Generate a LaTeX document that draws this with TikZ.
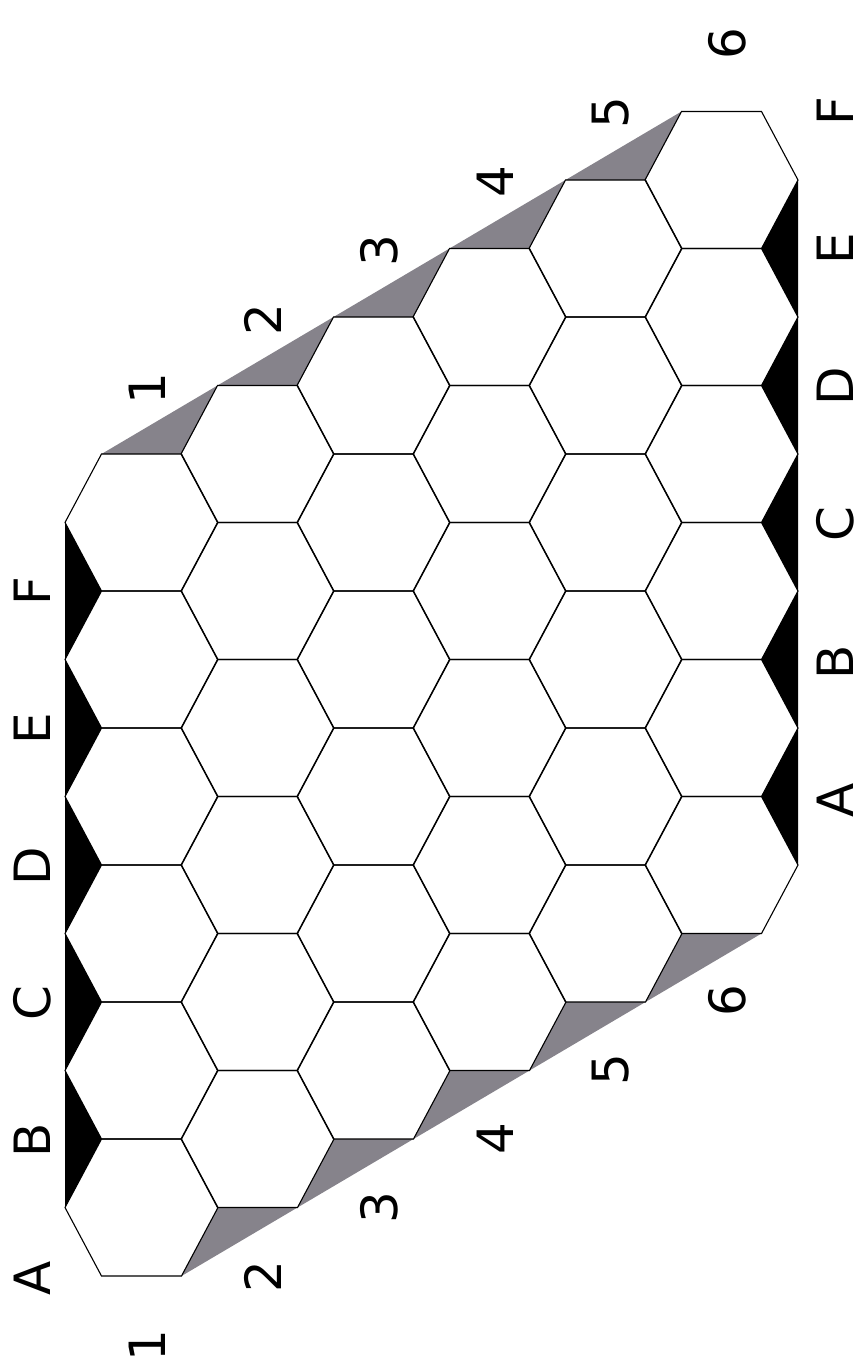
\documentclass[tikz,border=0pt]{standalone}
\usepackage{fontspec}
\newfontfamily\labfont{DejaVu Sans}
\definecolor{edgegrey}{RGB}{134,131,139}
\tikzset{
  hexcell/.style={draw=black, line width=0.55pt, line join=miter},
  blackedge/.style={fill=black},
  greyedge/.style={fill=edgegrey},
  lab/.style={font=\labfont\fontsize{25}{25}\selectfont, rotate=90, inner sep=0pt, anchor=center}
}
\begin{document}
\begin{tikzpicture}[x=0.5pt,y=-0.5pt]
\useasboundingbox (0,0) rectangle (862,1366);
% grey edge triangles
\foreach \k in {0,...,4}{
  \pgfmathsetmacro\cx{141.5+116*\k}
  \pgfmathsetmacro\cy{1207.5-68.5*\k}
  \pgfmathsetmacro\cyt{\cy-685}
  \fill[greyedge] (\cx+40,\cy+68.5) -- (\cx+76.5,\cy) -- (\cx+156,\cy) -- cycle;
  \fill[greyedge] (\cx-40,\cyt-68.5) -- (\cx+40,\cyt-68.5) -- (\cx+76,\cyt-137) -- cycle;
}
% black edge triangles
\foreach \j in {0,...,4}{
  \pgfmathsetmacro\ya{1207.5-137*\j}
  \pgfmathsetmacro\yb{865-137*\j}
  \fill[blackedge] (65,\ya) -- (101.5,\ya-68.5) -- (65,\ya-137) -- cycle;
  \fill[blackedge] (798,\yb) -- (761.5,\yb-68.5) -- (798,\yb-137) -- cycle;
}
% hex cells
\foreach \k in {0,...,5}{
  \foreach \j in {0,...,5}{
    \pgfmathsetmacro\cx{141.5+116*\k}
    \pgfmathsetmacro\cy{1207.5-68.5*\k-137*\j}
    \draw[hexcell] (\cx-76.5,\cy) -- (\cx-40,\cy-68.5) -- (\cx+40,\cy-68.5)
      -- (\cx+76.5,\cy) -- (\cx+40,\cy+68.5) -- (\cx-40,\cy+68.5) -- cycle;
  }
}
% column letters
\foreach \L [count=\i from 0] in {A,B,C,D,E,F}{
  \pgfmathsetmacro\yt{1278-137.4*\i}
  \pgfmathsetmacro\yb{800-137.8*\i}
  \node[lab] (top\L) at (32,\yt) {\L};
  \node[lab] (bot\L) at (835,\yb) {\L};
}
% row numbers
\foreach \n [count=\i from 0] in {1,...,6}{
  \pgfmathsetmacro\xl{147+116*\i}
  \pgfmathsetmacro\yl{1346-69*\i}
  \pgfmathsetmacro\yu{389-69*\i}
  \node[lab] (left\n) at (\xl,\yl) {\n};
  \node[lab] (right\n) at (\xl,\yu) {\n};
}
\end{tikzpicture}
\end{document}
